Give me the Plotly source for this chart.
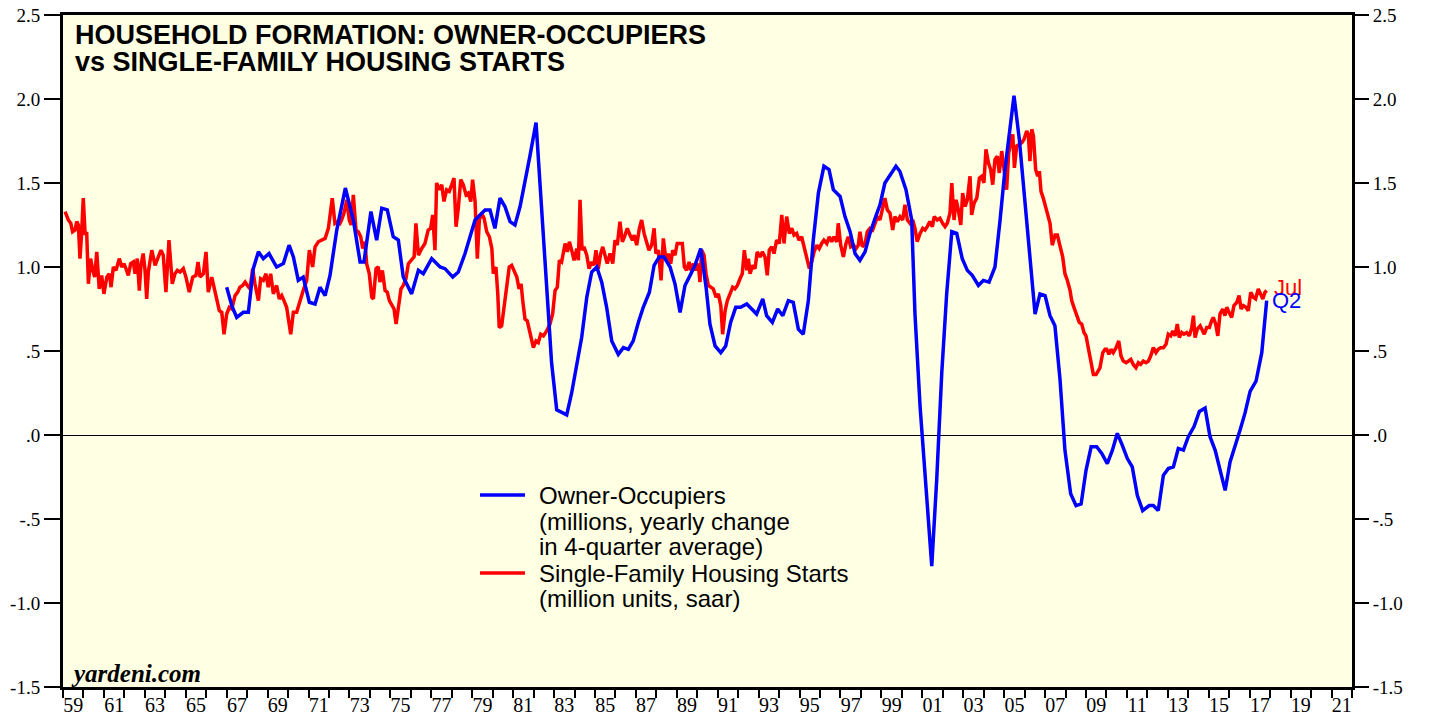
import plotly.graph_objects as go

# ---------------- data ----------------
# Single-Family Housing Starts (million units, saar)
red_x = [1959.10,1959.26,1959.38,1959.47,1959.59,1959.67,1959.75,1959.83,1959.91,1959.99,
1960.08,1960.16,1960.24,1960.35,1960.45,1960.55,1960.65,1960.77,1960.89,1961.00,
1961.14,1961.26,1961.35,1961.46,1961.59,1961.75,1961.87,1961.98,1962.11,1962.19,
1962.31,1962.44,1962.52,1962.63,1962.73,1962.81,1962.92,1963.01,1963.09,1963.17,
1963.34,1963.50,1963.66,1963.79,1963.90,1964.03,1964.18,1964.34,1964.47,1964.59,
1964.72,1964.88,1965.01,1965.17,1965.34,1965.50,1965.60,1965.70,1965.86,1965.99,
1966.10,1966.27,1966.38,1966.51,1966.64,1966.76,1966.87,1967.00,1967.13,1967.25,
1967.41,1967.54,1967.65,1967.78,1967.90,1968.01,1968.14,1968.27,1968.38,1968.55,
1968.66,1968.79,1968.92,1969.03,1969.15,1969.28,1969.44,1969.57,1969.69,1969.80,
1969.93,1970.13,1970.26,1970.42,1970.58,1970.74,1970.91,1971.04,1971.20,1971.32,
1971.48,1971.64,1971.81,1971.97,1972.16,1972.29,1972.41,1972.50,1972.62,1972.73,
1972.87,1972.99,1973.08,1973.19,1973.32,1973.43,1973.55,1973.65,1973.76,1973.84,
1973.97,1974.09,1974.17,1974.30,1974.41,1974.49,1974.61,1974.74,1974.85,1974.95,
1975.07,1975.18,1975.28,1975.39,1975.52,1975.63,1975.76,1975.88,1976.04,1976.16,
1976.25,1976.37,1976.53,1976.69,1976.85,1976.97,1977.07,1977.18,1977.26,1977.39,
1977.51,1977.62,1977.75,1977.88,1978.00,1978.11,1978.21,1978.32,1978.44,1978.56,
1978.70,1978.81,1978.93,1979.02,1979.14,1979.25,1979.35,1979.46,1979.58,1979.71,
1979.84,1979.96,1980.03,1980.16,1980.25,1980.32,1980.44,1980.55,1980.69,1980.81,
1980.93,1981.05,1981.18,1981.29,1981.39,1981.47,1981.58,1981.69,1981.79,1981.87,
1981.99,1982.12,1982.23,1982.35,1982.48,1982.64,1982.80,1982.93,1983.05,1983.16,
1983.26,1983.37,1983.54,1983.65,1983.75,1983.86,1983.98,1984.11,1984.19,1984.27,
1984.37,1984.46,1984.60,1984.71,1984.84,1984.95,1985.05,1985.16,1985.28,1985.38,
1985.49,1985.60,1985.74,1985.87,1985.98,1986.09,1986.22,1986.34,1986.47,1986.58,
1986.71,1986.83,1986.92,1987.04,1987.17,1987.28,1987.40,1987.53,1987.64,1987.77,
1987.89,1987.98,1988.10,1988.23,1988.34,1988.47,1988.58,1988.70,1988.80,1988.91,
1989.02,1989.16,1989.27,1989.37,1989.48,1989.60,1989.69,1989.81,1989.92,1990.05,
1990.13,1990.22,1990.33,1990.43,1990.54,1990.67,1990.78,1990.92,1991.03,1991.15,
1991.24,1991.36,1991.47,1991.60,1991.73,1991.84,1991.96,1992.09,1992.20,1992.30,
1992.42,1992.50,1992.58,1992.71,1992.82,1992.93,1993.07,1993.18,1993.31,1993.42,
1993.52,1993.64,1993.75,1993.88,1994.01,1994.13,1994.24,1994.37,1994.50,1994.62,
1994.73,1994.86,1994.97,1995.10,1995.22,1995.35,1995.48,1995.59,1995.71,1995.84,
1995.96,1996.08,1996.19,1996.33,1996.45,1996.57,1996.68,1996.82,1996.89,1997.01,
1997.14,1997.27,1997.38,1997.50,1997.63,1997.76,1997.87,1997.95,1998.07,1998.20,
1998.31,1998.44,1998.57,1998.69,1998.80,1998.93,1999.06,1999.17,1999.29,1999.42,
1999.55,1999.66,1999.78,1999.91,2000.04,2000.15,2000.27,2000.40,2000.53,2000.64,
2000.75,2000.89,2001.02,2001.13,2001.24,2001.37,2001.49,2001.58,2001.73,2001.86,
2001.99,2002.11,2002.22,2002.35,2002.44,2002.55,2002.65,2002.76,2002.88,2002.97,
2003.09,2003.20,2003.33,2003.41,2003.53,2003.66,2003.79,2003.90,2004.01,2004.11,
2004.23,2004.34,2004.44,2004.55,2004.66,2004.76,2004.88,2004.99,2005.12,2005.22,
2005.32,2005.42,2005.50,2005.61,2005.74,2005.86,2005.97,2006.10,2006.18,2006.26,
2006.35,2006.43,2006.54,2006.64,2006.72,2006.80,2006.91,2007.04,2007.16,2007.24,
2007.35,2007.49,2007.60,2007.73,2007.86,2007.97,2008.09,2008.22,2008.30,2008.41,
2008.55,2008.67,2008.79,2008.90,2009.00,2009.11,2009.23,2009.36,2009.49,2009.60,
2009.68,2009.82,2009.93,2010.01,2010.12,2010.22,2010.33,2010.47,2010.60,2010.71,
2010.82,2010.96,2011.07,2011.19,2011.31,2011.44,2011.56,2011.67,2011.80,2011.93,
2012.05,2012.16,2012.29,2012.42,2012.53,2012.65,2012.78,2012.91,2013.02,2013.14,
2013.24,2013.35,2013.46,2013.56,2013.68,2013.79,2013.92,2014.05,2014.17,2014.25,
2014.33,2014.44,2014.58,2014.69,2014.78,2014.90,2015.03,2015.14,2015.22,2015.34,
2015.44,2015.55,2015.68,2015.79,2015.88,2015.99,2016.12,2016.23,2016.37,2016.48,
2016.58,2016.69,2016.82,2016.93,2017.05,2017.18,2017.29,2017.42,2017.54,2017.64,
2017.75,2017.83]

red_y = [1.33,1.28,1.26,1.21,1.22,1.27,1.25,1.05,1.20,1.41,
1.20,1.20,0.90,1.05,0.98,0.94,1.09,0.87,0.95,0.84,
0.94,0.96,0.88,1.00,0.98,1.05,1.00,1.02,0.98,0.95,
1.02,1.03,0.96,1.05,0.86,1.01,1.08,0.98,0.81,0.97,
1.10,1.01,1.06,1.10,1.07,0.85,1.16,0.90,0.96,0.98,
0.97,0.99,0.94,0.85,0.94,0.95,1.03,0.94,0.96,1.09,
0.85,0.94,0.88,0.80,0.74,0.73,0.60,0.72,0.76,0.75,
0.83,0.85,0.88,0.89,0.91,0.89,0.87,0.99,0.90,0.80,
0.93,0.92,0.96,0.88,0.96,0.84,0.89,0.81,0.83,0.80,
0.76,0.60,0.73,0.73,0.80,0.86,0.92,1.10,1.00,1.12,
1.15,1.16,1.17,1.23,1.41,1.26,1.27,1.25,1.28,1.32,
1.40,1.28,1.25,1.43,1.22,1.21,1.18,1.11,1.15,1.02,
0.96,0.82,0.81,0.99,1.00,0.91,0.98,0.86,0.85,0.80,
0.77,0.75,0.66,0.76,0.87,0.89,0.93,1.02,1.04,1.06,
1.26,1.07,1.11,1.14,1.22,1.23,1.31,1.10,1.50,1.46,
1.49,1.39,1.46,1.45,1.49,1.53,1.24,1.35,1.52,1.49,
1.43,1.44,1.39,1.52,1.39,1.05,1.28,1.32,1.29,1.21,
1.18,1.11,0.96,1.00,0.84,0.64,0.65,0.76,0.90,1.00,
1.01,0.98,0.94,0.87,0.90,0.80,0.69,0.68,0.63,0.60,
0.52,0.56,0.55,0.60,0.59,0.62,0.66,0.72,0.86,0.88,
1.04,1.03,1.14,1.09,1.15,1.10,1.04,1.11,1.04,1.40,
1.10,1.12,1.07,0.99,1.03,1.01,1.10,0.99,1.08,1.12,
1.07,1.02,1.08,1.02,1.16,1.13,1.27,1.15,1.19,1.23,
1.19,1.16,1.19,1.13,1.23,1.28,1.20,1.15,1.10,1.13,
1.23,1.08,1.10,0.92,1.17,1.04,1.08,1.02,1.10,1.07,
1.14,1.14,1.14,1.00,0.98,1.03,0.98,1.02,0.98,1.02,
0.91,1.10,1.07,0.96,0.89,0.88,0.87,0.82,0.84,0.77,
0.60,0.74,0.80,0.84,0.88,0.87,0.89,0.93,0.96,1.10,
0.98,1.05,0.96,1.01,0.99,1.09,1.06,1.09,1.06,0.95,
1.10,1.12,1.08,1.16,1.14,1.31,1.14,1.30,1.20,1.23,
1.19,1.20,1.16,1.18,1.12,1.05,0.99,1.03,1.09,1.13,
1.11,1.14,1.16,1.14,1.18,1.15,1.18,1.15,1.26,1.13,
1.06,1.14,1.18,1.12,1.13,1.11,1.13,1.21,1.12,1.14,
1.21,1.23,1.22,1.26,1.30,1.28,1.34,1.41,1.34,1.32,
1.22,1.30,1.27,1.30,1.28,1.37,1.28,1.26,1.28,1.23,
1.15,1.20,1.23,1.22,1.24,1.27,1.24,1.30,1.28,1.29,
1.26,1.24,1.26,1.32,1.50,1.28,1.40,1.34,1.25,1.44,
1.36,1.40,1.54,1.31,1.38,1.41,1.53,1.54,1.50,1.70,
1.62,1.58,1.49,1.64,1.66,1.56,1.69,1.59,1.46,1.68,
1.74,1.79,1.59,1.72,1.73,1.74,1.76,1.81,1.79,1.63,
1.82,1.78,1.58,1.54,1.57,1.45,1.41,1.35,1.28,1.26,
1.13,1.19,1.19,1.12,1.06,0.96,0.92,0.86,0.80,0.76,
0.71,0.67,0.66,0.61,0.59,0.52,0.45,0.36,0.36,0.38,
0.40,0.49,0.51,0.51,0.48,0.51,0.49,0.52,0.56,0.47,
0.44,0.43,0.44,0.45,0.42,0.40,0.43,0.42,0.44,0.43,
0.44,0.47,0.52,0.49,0.51,0.52,0.52,0.54,0.60,0.59,
0.62,0.59,0.66,0.58,0.61,0.60,0.61,0.59,0.64,0.71,
0.58,0.63,0.65,0.62,0.60,0.64,0.64,0.68,0.70,0.66,
0.59,0.72,0.75,0.71,0.76,0.73,0.70,0.77,0.79,0.83,
0.75,0.77,0.76,0.74,0.85,0.82,0.81,0.87,0.83,0.81,
0.85,0.86]

# Owner-Occupiers (millions, yearly change in 4-quarter average)
blue_x = [1967.00,1967.25,1967.49,1967.81,1968.06,1968.30,1968.55,1968.79,1969.07,1969.44,
1969.77,1970.05,1970.26,1970.50,1970.74,1971.04,1971.32,1971.56,1971.81,1972.05,
1972.38,1972.80,1973.19,1973.52,1973.71,1974.05,1974.33,1974.58,1974.85,1975.14,
1975.39,1975.63,1976.04,1976.37,1976.61,1977.02,1977.43,1977.67,1978.05,1978.32,
1978.65,1978.89,1979.14,1979.38,1979.63,1979.87,1980.11,1980.36,1980.60,1980.85,
1981.09,1981.34,1981.58,1981.82,1982.12,1982.40,1982.64,1982.88,1983.13,1983.62,
1983.86,1984.11,1984.35,1984.60,1984.84,1985.09,1985.33,1985.57,1985.82,1986.14,
1986.39,1986.63,1986.87,1987.12,1987.36,1987.66,1987.89,1988.14,1988.37,1988.67,
1988.91,1989.16,1989.40,1989.65,1989.89,1990.17,1990.43,1990.62,1990.87,1991.15,
1991.39,1991.63,1991.88,1992.12,1992.42,1992.66,1992.90,1993.20,1993.39,1993.67,
1993.93,1994.18,1994.45,1994.69,1994.94,1995.18,1995.43,1995.67,1995.92,1996.19,
1996.44,1996.65,1996.98,1997.22,1997.47,1997.71,1997.95,1998.20,1998.44,1998.69,
1998.93,1999.17,1999.71,1999.90,2000.20,2000.48,2000.64,2000.89,2001.13,2001.46,
2001.70,2001.95,2002.19,2002.44,2002.68,2002.95,2003.20,2003.44,2003.74,2003.98,
2004.26,2004.55,2004.80,2005.04,2005.29,2005.48,2005.74,2006.02,2006.26,2006.51,
2006.75,2007.00,2007.24,2007.48,2007.73,2007.97,2008.25,2008.51,2008.76,2009.00,
2009.25,2009.52,2009.77,2010.04,2010.29,2010.53,2010.77,2011.02,2011.26,2011.51,
2011.77,2012.09,2012.29,2012.53,2012.78,2013.02,2013.27,2013.51,2013.76,2014.00,
2014.28,2014.54,2014.82,2015.06,2015.31,2015.55,2015.80,2016.04,2016.29,2016.53,
2016.77,2017.02,2017.31,2017.59,2017.83]

blue_y = [0.88,0.77,0.70,0.73,0.73,0.99,1.09,1.05,1.08,1.00,
1.02,1.13,1.06,0.92,0.94,0.79,0.78,0.88,0.83,0.95,
1.22,1.47,1.28,1.03,1.03,1.33,1.16,1.35,1.34,1.18,
1.16,0.94,0.84,0.98,0.96,1.05,1.00,0.99,0.94,0.97,
1.08,1.17,1.28,1.31,1.34,1.34,1.23,1.41,1.36,1.27,
1.25,1.36,1.50,1.66,1.86,1.34,0.88,0.43,0.15,0.12,
0.25,0.41,0.58,0.82,0.97,1.00,0.91,0.76,0.56,0.48,
0.52,0.51,0.56,0.67,0.76,0.85,1.01,1.06,1.06,1.00,
0.90,0.73,0.89,0.95,1.01,1.11,0.88,0.66,0.53,0.49,
0.53,0.67,0.76,0.76,0.78,0.75,0.72,0.81,0.71,0.67,
0.75,0.71,0.80,0.79,0.63,0.60,0.80,1.16,1.44,1.60,
1.58,1.46,1.42,1.30,1.21,1.08,1.04,1.09,1.20,1.29,
1.37,1.50,1.60,1.57,1.46,1.28,0.72,0.17,-0.23,-0.78,
-0.27,0.37,0.84,1.21,1.20,1.05,0.98,0.95,0.89,0.92,
0.91,1.00,1.28,1.58,1.83,2.02,1.76,1.38,1.08,0.72,
0.84,0.83,0.71,0.65,0.33,-0.09,-0.35,-0.42,-0.41,-0.21,
-0.07,-0.07,-0.11,-0.17,-0.09,0.01,-0.06,-0.14,-0.19,-0.36,
-0.45,-0.42,-0.42,-0.45,-0.24,-0.20,-0.19,-0.08,-0.09,-0.01,
0.05,0.14,0.16,-0.01,-0.09,-0.21,-0.33,-0.16,-0.07,0.03,
0.13,0.26,0.32,0.49,0.80]

x_range = [1959, 2022]
y_range = [-1.5, 2.5]
year_ticks = list(range(1959, 2023))
label_years = list(range(1959, 2022, 2))
label_text = ["%02d" % (y % 100) for y in label_years]
y_tickvals = [-1.5, -1.0, -0.5, 0.0, 0.5, 1.0, 1.5, 2.0, 2.5]
y_ticktext = ["-1.5", "-1.0", "-.5", ".0", ".5", "1.0", "1.5", "2.0", "2.5"]

title_1 = "HOUSEHOLD FORMATION: OWNER-OCCUPIERS"
title_2 = "vs SINGLE-FAMILY HOUSING STARTS"
blue_lines = ["Owner-Occupiers", "(millions, yearly change", "in 4-quarter average)"]
red_lines = ["Single-Family Housing Starts", "(million units, saar)"]

SERIF = "Liberation Serif, Times New Roman, serif"
SANS = "Liberation Sans, Arial, sans-serif"
BLUE = "#0000FF"
RED = "#FF0000"
LW = 3.5

fig = go.Figure()
fig.add_trace(go.Scatter(x=red_x, y=red_y, mode="lines", name=red_lines[0],
                         line=dict(color=RED, width=LW), hoverinfo="skip",
                         showlegend=False))
fig.add_trace(go.Scatter(x=blue_x, y=blue_y, mode="lines", name=blue_lines[0],
                         line=dict(color=BLUE, width=LW), hoverinfo="skip",
                         showlegend=False))
# helper empty traces so the overlay axes are drawn
fig.add_trace(go.Scatter(x=[], y=[], xaxis="x2", yaxis="y", showlegend=False))
fig.add_trace(go.Scatter(x=[], y=[], xaxis="x", yaxis="y2", showlegend=False))

tick_font = dict(family=SERIF, size=19, color="black")
xlab_font = dict(family=SERIF, size=20, color="black")

annotations = [
    dict(text="<b>" + title_1 + "</b>", xref="paper", yref="paper",
         x=0.008, y=0.970, xanchor="left", yanchor="middle", showarrow=False,
         font=dict(family=SANS, size=27, color="black")),
    dict(text="<b>" + title_2 + "</b>", xref="paper", yref="paper",
         x=0.008, y=0.930, xanchor="left", yanchor="middle", showarrow=False,
         font=dict(family=SANS, size=27, color="black")),
    dict(text="<b><i>yardeni.com</i></b>", xref="paper", yref="paper",
         x=0.0045, y=0.020, xanchor="left", yanchor="middle", showarrow=False,
         font=dict(family=SERIF, size=25, color="black")),
    dict(text="Jul", xref="x", yref="y", x=red_x[-1], y=red_y[-1],
         xanchor="left", yanchor="middle", xshift=5, yshift=3, showarrow=False,
         font=dict(family=SANS, size=22, color=RED)),
    dict(text="Q2", xref="x", yref="y", x=blue_x[-1], y=blue_y[-1],
         xanchor="left", yanchor="middle", xshift=3, yshift=0, showarrow=False,
         font=dict(family=SANS, size=22, color=BLUE)),
]

# legend drawn as key lines + text lines (tight line spacing as in the original)
LEG_TEXT_X = 0.3678
LEG_KEY_X0, LEG_KEY_X1 = 0.3235, 0.3584
blue_rows = [0.2857, 0.2470, 0.2098]
red_rows = [0.1696, 0.1310]
for txt, yy in zip(blue_lines + red_lines, blue_rows + red_rows):
    annotations.append(dict(text=txt, xref="paper", yref="paper", x=LEG_TEXT_X,
                            y=yy, xanchor="left", yanchor="middle", showarrow=False,
                            font=dict(family=SANS, size=24, color="black")))
shapes = [
    dict(type="line", xref="paper", yref="paper", x0=LEG_KEY_X0, x1=LEG_KEY_X1,
         y0=blue_rows[0], y1=blue_rows[0], line=dict(color=BLUE, width=LW)),
    dict(type="line", xref="paper", yref="paper", x0=LEG_KEY_X0, x1=LEG_KEY_X1,
         y0=red_rows[0], y1=red_rows[0], line=dict(color=RED, width=LW)),
]

fig.update_layout(
    width=1431, height=719,
    autosize=False,
    margin=dict(l=63, r=79, t=15, b=32, pad=0, autoexpand=False),
    paper_bgcolor="white",
    plot_bgcolor="#FFFFE3",
    xaxis=dict(range=x_range, tickmode="array", tickvals=year_ticks,
               showticklabels=False, ticks="outside", ticklen=8, tickwidth=2,
               tickcolor="black", showline=True, linewidth=3, linecolor="black",
               mirror=True, showgrid=False, zeroline=False, fixedrange=True,
               automargin=False),
    xaxis2=dict(range=x_range, overlaying="x", anchor="y", side="bottom",
                tickmode="array", tickvals=[y + 0.5 for y in label_years],
                ticktext=label_text, ticks="", showline=False, showgrid=False,
                zeroline=False, tickfont=xlab_font, fixedrange=True,
                ticklabelstandoff=4, automargin=False),
    yaxis=dict(range=y_range, tickmode="array", tickvals=y_tickvals,
               ticktext=y_ticktext, ticks="outside", ticklen=16, tickwidth=1.5,
               tickcolor="black", showline=True, linewidth=3, linecolor="black",
               mirror=True, showgrid=False, zeroline=True, zerolinecolor="black",
               zerolinewidth=1, tickfont=tick_font, fixedrange=True,
               automargin=False),
    yaxis2=dict(range=y_range, overlaying="y", anchor="x", side="right",
                tickmode="array", tickvals=y_tickvals, ticktext=y_ticktext,
                ticks="outside", ticklen=16, tickwidth=1.5, tickcolor="black",
                showline=False, showgrid=False, zeroline=False,
                tickfont=tick_font, fixedrange=True, automargin=False),
    showlegend=False,
    annotations=annotations,
    shapes=shapes,
)

fig.write_html("out.html",
               config={"displayModeBar": False},
               post_script="document.body.style.margin='0';"
                           "document.body.style.overflow='hidden';")
